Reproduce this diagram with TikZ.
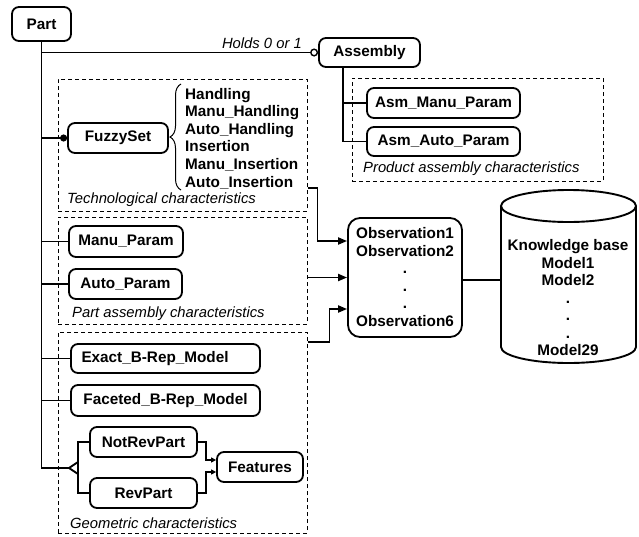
\documentclass[tikz,border=0pt]{standalone}
\usepackage{fontspec}
\setmainfont{Liberation Sans}
\usetikzlibrary{arrows.meta,decorations.pathreplacing,calc}
\begin{document}
\begin{tikzpicture}[x=1pt,y=-1pt,
  box/.style={draw, line width=1.8pt, rounded corners=7pt, inner sep=0pt, font=\bfseries\fontsize{15.3}{17.5}\selectfont},
  dbox/.style={draw, line width=1pt, dash pattern=on 4pt off 3pt, inner sep=0pt},
  lab/.style={font=\itshape\fontsize{14.8}{17}\selectfont, inner sep=0pt},
  txt/.style={inner sep=0pt, font=\bfseries\fontsize{15.3}{17.5}\selectfont},
  conn/.style={line width=1.9pt},
  arr/.style={conn, -{Triangle[length=9pt,width=7pt]}},
  smallarr/.style={conn, -{Triangle[length=5pt,width=5pt]}},
]
\useasboundingbox (0,0) rectangle (639,536);

% dashed frames
\node[dbox, minimum width=249pt, minimum height=132pt] (tech) at (182.5,145) {};
\node[dbox, minimum width=249pt, minimum height=107pt] (pasm) at (182.5,270.5) {};
\node[dbox, minimum width=249pt, minimum height=201pt] (geom) at (182.5,432.5) {};
\node[dbox, minimum width=251pt, minimum height=103pt] (prod) at (477.5,129.5) {};

% frame labels
\node[lab, anchor=west] (techlab) at (67,200) {Technological characteristics};
\node[lab, anchor=west] (pasmlab) at (72,314) {Part assembly characteristics};
\node[lab, anchor=west] (geomlab) at (70,523) {Geometric characteristics};
\node[lab, anchor=west] (prodlab) at (363,169) {Product assembly characteristics};
\node[lab, anchor=east] (holds) at (302,43) {Holds 0 or 1};

% boxes
\node[box, minimum width=59pt, minimum height=34pt] (part) at (41.5,24) {Part};
\node[box, minimum width=101pt, minimum height=29pt] (asm) at (369.5,52.5) {Assembly};
\node[box, minimum width=153pt, minimum height=30pt] (asmmanu) at (443.5,103) {Asm\_Manu\_Param};
\node[box, minimum width=153pt, minimum height=29pt] (asmauto) at (443.5,141.5) {Asm\_Auto\_Param};
\node[box, minimum width=100pt, minimum height=30pt] (fuzzy) at (118,138) {FuzzySet};
\node[box, minimum width=114pt, minimum height=31pt] (manu) at (126,241.5) {Manu\_Param};
\node[box, minimum width=113pt, minimum height=30pt] (auto) at (125.5,284) {Auto\_Param};
\node[box, minimum width=189pt, minimum height=29pt] (exact) at (165.5,358.5) {\makebox[168pt][l]{Exact\_B-Rep\_Model}};
\node[box, minimum width=189pt, minimum height=31pt] (facet) at (165.5,400.5) {Faceted\_B-Rep\_Model};
\node[box, minimum width=107pt, minimum height=30pt] (notrev) at (143.5,442) {NotRevPart};
\node[box, minimum width=107pt, minimum height=30pt] (rev) at (143.5,493) {RevPart};
\node[box, minimum width=86pt, minimum height=30pt] (feat) at (260,467) {Features};
\node[box, rounded corners=12pt, minimum width=114pt, minimum height=119pt, align=center] (obs) at (405,277.5)
  {\\[-7pt]Observation1\\Observation2\\.\\.\\.\\Observation6};

% attribute list with brace
\node[txt, anchor=west, align=left, font=\bfseries\fontsize{15.3}{17.6}\selectfont] (attrs) at (185,138.5)
  {Handling\\Manu\_Handling\\Auto\_Handling\\Insertion\\Manu\_Insertion\\Auto\_Insertion};
\draw[line width=1pt, decorate, decoration={brace, amplitude=11pt}] (181,190) -- (181,84);

% knowledge base cylinder
\node[minimum width=135pt, minimum height=173pt, inner sep=0pt] (kb) at (568.5,276.5) {};
\draw[conn] (501,206) -- (501,347) arc[start angle=180, end angle=360, x radius=67.5pt, y radius=16pt] -- (636,206);
\draw[conn] (568.5,206) ellipse[x radius=67.5pt, y radius=16pt];
\node[txt, align=center] (kbtext) at (568,298) {Knowledge base\\Model1\\Model2\\.\\.\\.\\Model29};

% part spine
\coordinate (tri) at (69,468);
\coordinate (bus) at (78,468);
\draw[conn] (part.south) -- (part.south |- tri) -- (tri);
\draw[conn, fill=white, line join=miter] (tri) -- (78,462) -- (78,474) -- cycle;
\draw[conn] (notrev.west) -| (bus) |- (rev.west);

\draw[conn, -{Circle[open, length=8pt, line width=1.4pt]}] (part.south |- asm.west) -- (asm.west);
\draw[conn, -{Circle[length=7pt]}] (part.south |- fuzzy.west) -- (fuzzy.west);
\foreach \n in {manu,auto,exact,facet} \draw[conn] (part.south |- \n.west) -- (\n.west);

% assembly branches
\coordinate (asmx) at ([xshift=25pt]asm.south west);
\draw[conn] (asmx) |- (asmauto.west);
\draw[conn] (asmx |- asmmanu.west) -- (asmmanu.west);

% into observations
\draw[arr] ([yshift=-43pt]tech.east) -- ++(10,0) |- ([yshift=36.5pt]obs.west);
\draw[arr] (obs.west -| pasm.east) -- (obs.west);
\draw[arr] ([yshift=90.5pt]geom.east) -- ++(22,0) |- ([yshift=-31.5pt]obs.west);
\draw[conn] ([yshift=-2.5pt]obs.east) -- ([yshift=-2.5pt]obs.east -| kb.west);

% features
\draw[smallarr] (notrev.east) -- ++(8,0) |- ([yshift=7pt]feat.west);
\draw[smallarr] (rev.east) -- ++(8,0) |- ([yshift=-5pt]feat.west);
\end{tikzpicture}
\end{document}
